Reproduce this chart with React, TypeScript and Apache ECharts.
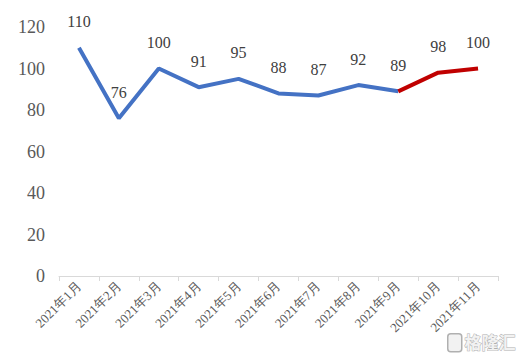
import React, { useEffect, useRef } from "react";
import * as echarts from "echarts";

const categories = ["2021年1月", "2021年2月", "2021年3月", "2021年4月", "2021年5月", "2021年6月", "2021年7月", "2021年8月", "2021年9月", "2021年10月", "2021年11月"];
const blueValues: (number | null)[] = [110, 76, 100, 91, 95, 88, 87, 92, 89, null, null];
const redValues: (number | null)[] = [null, null, null, null, null, null, null, null, 89, 98, 100];
const yTicks = [0, 20, 40, 60, 80, 100, 120];

export default function App() {
  const ref = useRef<HTMLDivElement>(null);
  useEffect(() => {
    if (!ref.current) return;
    const chart = echarts.init(ref.current, undefined, { renderer: "svg" });
    const serif = "'Liberation Serif', 'Times New Roman', serif";
    chart.setOption({
      animation: false,
      grid: { left: 59, right: 25, top: 27, bottom: 82 },
      xAxis: {
        type: "category",
        data: categories,
        boundaryGap: true,
        axisLine: { lineStyle: { color: "#d9d9d9", width: 1 } },
        axisTick: { show: true, length: 5, lineStyle: { color: "#d9d9d9" } },
        axisLabel: { rotate: 45, fontFamily: serif, fontSize: 13, color: "#595959", margin: 8, interval: 0 },
      },
      yAxis: {
        type: "value",
        min: yTicks[0],
        max: yTicks[yTicks.length - 1],
        interval: 20,
        axisLine: { show: false },
        axisTick: { show: false },
        splitLine: { show: false },
        axisLabel: { fontFamily: serif, fontSize: 18, color: "#595959", margin: 14 },
      },
      series: [
        {
          type: "line",
          data: blueValues,
          symbol: "circle",
          symbolSize: 0,
          showSymbol: true,
          lineStyle: { color: "#4472C4", width: 4 },
          itemStyle: { color: "#4472C4" },
          label: { show: true, position: "top", distance: 18, fontFamily: serif, fontSize: 16, color: "#404040" },
        },
        {
          type: "line",
          data: redValues,
          symbol: "circle",
          symbolSize: 0,
          showSymbol: true,
          lineStyle: { color: "#C00000", width: 4 },
          itemStyle: { color: "#C00000" },
          label: {
            show: true,
            position: "top",
            distance: 18,
            fontFamily: serif,
            fontSize: 16,
            color: "#404040",
            formatter: (p: any) => (p.dataIndex > 8 ? String(p.value) : ""),
          },
        },
      ],
      graphic: [
        {
          type: "text",
          left: 464,
          top: 332,
          style: {
            text: "格隆汇",
            font: "bold 17px 'Noto Sans CJK SC'",
            fill: "#f2f2f2",
            stroke: "#b0b0b0",
            lineWidth: 1,
          },
        },
        {
          type: "rect",
          left: 447,
          top: 333,
          shape: { width: 14, height: 18, r: 3 },
          style: { fill: "#f2f2f2", stroke: "#b0b0b0", lineWidth: 1.5 },
        },
      ],
    });
    return () => chart.dispose();
  }, []);
  return <div ref={ref} style={{ width: 523, height: 358, position: "absolute", left: 0, top: 0 }} />;
}
